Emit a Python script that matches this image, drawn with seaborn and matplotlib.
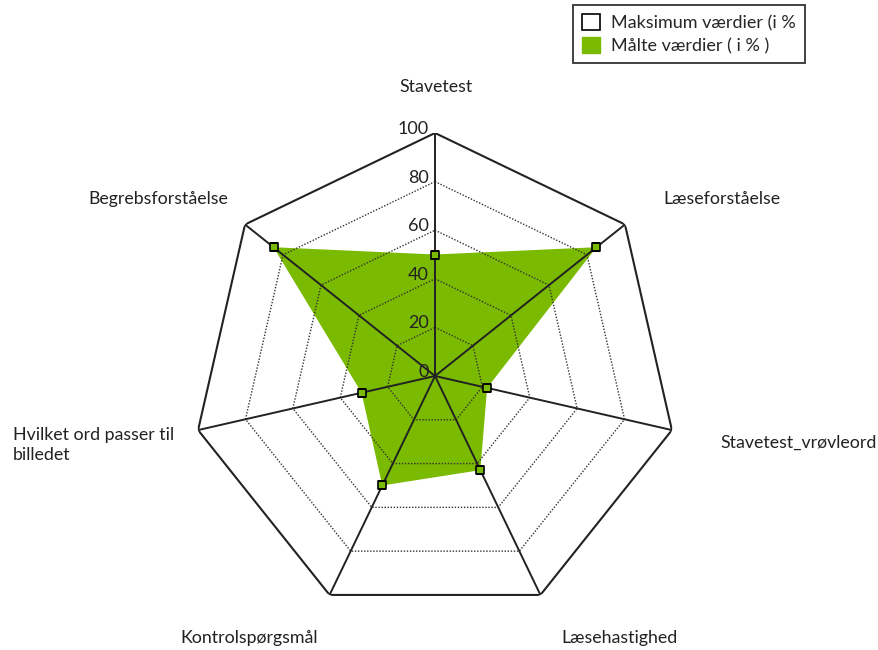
import numpy as np
import pandas as pd
import matplotlib
matplotlib.use("Agg")
import matplotlib.pyplot as plt
import seaborn as sns
from matplotlib.patches import Patch

categories = ["Stavetest", "Læseforståelse", "Stavetest_vrøvleord", "Læsehastighed",
              "Kontrolspørgsmål", "Hvilket ord passer til\nbilledet", "Begrebsforståelse"]
measured = [50, 85, 22, 43, 50, 31, 85]
maximum = [100, 100, 100, 100, 100, 100, 100]
tick_values = [0, 20, 40, 60, 80, 100]
legend_labels = ["Maksimum værdier (i %", "Målte værdier ( i % )"]

sns.set_style("white")
plt.rcParams['font.family'] = ['Lato', 'DejaVu Sans']

GREEN = "#7aba00"
W, H = 879, 650
fig = plt.figure(figsize=(W / 100, H / 100), dpi=100)
cx, cy, R = 435, 376, 243
ax = fig.add_axes([(cx - R) / W, (H - cy - R) / H, 2 * R / W, 2 * R / H], projection="polar")
ax.set_theta_zero_location("N")
ax.set_theta_direction(-1)
ax.set_ylim(0, 100)
ax.grid(False)
ax.spines["polar"].set_visible(False)
ax.set_facecolor("none")

n = len(categories)
theta = np.arange(n) * 2 * np.pi / n
theta_c = np.append(theta, theta[0])

df = pd.DataFrame({"theta": theta, "value": measured, "cat": categories})

# measured fill
ax.fill(theta_c, np.append(measured, measured[0]), color=GREEN, lw=0, zorder=1)

# gridlines
for t in tick_values[1:-1]:
    ax.plot(theta_c, [t] * (n + 1), color="#333333", lw=1.0, ls=(0, (1, 1.2)), zorder=2)
ax.plot(theta_c, np.append(maximum, maximum[0]), color="#222222", lw=1.5, zorder=3)
for th, m in zip(theta, maximum):
    ax.plot([th, th], [0, m], color="#222222", lw=1.4, zorder=3)

# markers
sns.scatterplot(data=df, x="theta", y="value", ax=ax, marker="s", s=38,
                color=GREEN, edgecolor="black", linewidth=1.2, zorder=5, legend=False)
ax.set_xlabel("")
ax.set_ylabel("")
ax.set_xticks([])
ax.set_yticks([])

# tick labels along top spoke
off = matplotlib.transforms.ScaledTranslation(-6 / 100, 4 / 100, fig.dpi_scale_trans)
for t in tick_values:
    ax.text(0, t, str(t), ha="right", va="center", fontsize=13, color="#222222",
            transform=ax.transData + off)

# category labels (pixel positions)
label_pos = [(436, 87, "center"), (722, 199, "center"), (799, 443, "center"),
             (620, 638, "center"), (249, 638, "center"), (13, 445, "left"), (158, 199, "center")]
for cat, (px, py, ha) in zip(categories, label_pos):
    fig.text(px / W, 1 - py / H, cat, ha=ha, va="center", fontsize=12.8, color="#222222",
             linespacing=1.3)

# legend
handles = [Patch(facecolor="white", edgecolor="black", lw=1.2),
           Patch(facecolor=GREEN, edgecolor=GREEN)]
leg = fig.legend(handles, legend_labels, loc="upper left", bbox_to_anchor=(573 / W, 1 - 5 / H),
                 frameon=True, fancybox=False, edgecolor="black", fontsize=13,
                 handlelength=1.0, handleheight=1.0, handletextpad=0.6, borderpad=0.5,
                 labelspacing=0.3, borderaxespad=0)
leg.get_frame().set_linewidth(1.3)

fig.savefig("out.png", dpi=100)
